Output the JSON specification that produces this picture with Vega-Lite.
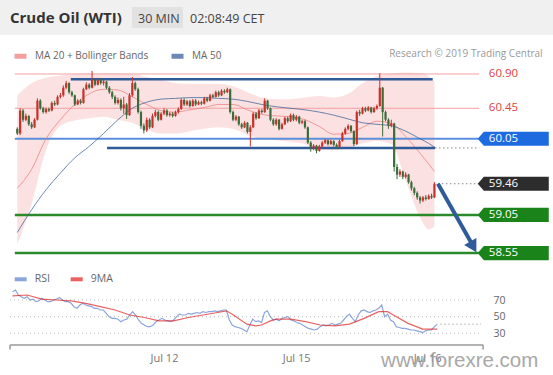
{
"$schema":"https://vega.github.io/schema/vega-lite/v6.json",
"padding":0,
"background":"white",
"spacing":0,
"config":{"view":{"stroke":null},"font":"Open Sans"},
"resolve":{"scale":{"x":"independent","y":"independent","color":"independent"},"legend":{"color":"independent"}},
"datasets":{
"candles":[
{"i":0,"o":60.18,"h":60.20,"l":60.10,"c":60.12},
{"i":1,"o":60.12,"h":60.45,"l":60.10,"c":60.42},
{"i":2,"o":60.42,"h":60.44,"l":60.27,"c":60.30},
{"i":3,"o":60.30,"h":60.38,"l":60.28,"c":60.35},
{"i":4,"o":60.35,"h":60.36,"l":60.22,"c":60.24},
{"i":5,"o":60.24,"h":60.27,"l":60.18,"c":60.20},
{"i":6,"o":60.20,"h":60.32,"l":60.19,"c":60.30},
{"i":7,"o":60.30,"h":60.58,"l":60.29,"c":60.55},
{"i":8,"o":60.55,"h":60.57,"l":60.43,"c":60.45},
{"i":9,"o":60.45,"h":60.47,"l":60.38,"c":60.40},
{"i":10,"o":60.40,"h":60.46,"l":60.38,"c":60.44},
{"i":11,"o":60.44,"h":60.46,"l":60.40,"c":60.42},
{"i":12,"o":60.42,"h":60.54,"l":60.41,"c":60.52},
{"i":13,"o":60.52,"h":60.55,"l":60.48,"c":60.50},
{"i":14,"o":60.50,"h":60.62,"l":60.49,"c":60.60},
{"i":15,"o":60.60,"h":60.65,"l":60.58,"c":60.62},
{"i":16,"o":60.62,"h":60.75,"l":60.60,"c":60.72},
{"i":17,"o":60.72,"h":60.81,"l":60.70,"c":60.78},
{"i":18,"o":60.78,"h":60.79,"l":60.64,"c":60.66},
{"i":19,"o":60.66,"h":60.68,"l":60.60,"c":60.62},
{"i":20,"o":60.62,"h":60.63,"l":60.48,"c":60.50},
{"i":21,"o":60.50,"h":60.57,"l":60.49,"c":60.55},
{"i":22,"o":60.55,"h":60.57,"l":60.50,"c":60.52},
{"i":23,"o":60.52,"h":60.72,"l":60.51,"c":60.70},
{"i":24,"o":60.70,"h":60.79,"l":60.69,"c":60.76},
{"i":25,"o":60.76,"h":60.78,"l":60.70,"c":60.72},
{"i":26,"o":60.72,"h":60.94,"l":60.71,"c":60.82},
{"i":27,"o":60.82,"h":60.84,"l":60.74,"c":60.76},
{"i":28,"o":60.76,"h":60.85,"l":60.75,"c":60.82},
{"i":29,"o":60.82,"h":60.84,"l":60.76,"c":60.78},
{"i":30,"o":60.78,"h":60.82,"l":60.75,"c":60.80},
{"i":31,"o":60.80,"h":60.81,"l":60.70,"c":60.72},
{"i":32,"o":60.72,"h":60.74,"l":60.64,"c":60.66},
{"i":33,"o":60.66,"h":60.68,"l":60.57,"c":60.60},
{"i":34,"o":60.60,"h":60.62,"l":60.50,"c":60.52},
{"i":35,"o":60.52,"h":60.59,"l":60.50,"c":60.56},
{"i":36,"o":60.56,"h":60.58,"l":60.42,"c":60.45},
{"i":37,"o":60.45,"h":60.60,"l":60.38,"c":60.50},
{"i":38,"o":60.50,"h":60.52,"l":60.31,"c":60.36},
{"i":39,"o":60.36,"h":60.65,"l":60.35,"c":60.62},
{"i":40,"o":60.62,"h":60.86,"l":60.60,"c":60.78},
{"i":41,"o":60.78,"h":60.80,"l":60.68,"c":60.70},
{"i":42,"o":60.70,"h":60.72,"l":60.38,"c":60.40},
{"i":43,"o":60.40,"h":60.42,"l":60.18,"c":60.22},
{"i":44,"o":60.22,"h":60.25,"l":60.12,"c":60.16},
{"i":45,"o":60.16,"h":60.33,"l":60.14,"c":60.30},
{"i":46,"o":60.30,"h":60.32,"l":60.18,"c":60.20},
{"i":47,"o":60.20,"h":60.38,"l":60.19,"c":60.35},
{"i":48,"o":60.35,"h":60.43,"l":60.33,"c":60.40},
{"i":49,"o":60.40,"h":60.42,"l":60.28,"c":60.30},
{"i":50,"o":60.30,"h":60.40,"l":60.29,"c":60.38},
{"i":51,"o":60.38,"h":60.45,"l":60.36,"c":60.42},
{"i":52,"o":60.42,"h":60.44,"l":60.34,"c":60.36},
{"i":53,"o":60.36,"h":60.40,"l":60.34,"c":60.38},
{"i":54,"o":60.38,"h":60.40,"l":60.33,"c":60.35},
{"i":55,"o":60.35,"h":60.42,"l":60.34,"c":60.40},
{"i":56,"o":60.40,"h":60.46,"l":60.38,"c":60.44},
{"i":57,"o":60.44,"h":60.58,"l":60.43,"c":60.56},
{"i":58,"o":60.56,"h":60.58,"l":60.48,"c":60.50},
{"i":59,"o":60.50,"h":60.56,"l":60.48,"c":60.54},
{"i":60,"o":60.54,"h":60.56,"l":60.46,"c":60.48},
{"i":61,"o":60.48,"h":60.57,"l":60.47,"c":60.55},
{"i":62,"o":60.55,"h":60.57,"l":60.48,"c":60.50},
{"i":63,"o":60.50,"h":60.55,"l":60.49,"c":60.53},
{"i":64,"o":60.53,"h":60.55,"l":60.49,"c":60.51},
{"i":65,"o":60.51,"h":60.60,"l":60.50,"c":60.58},
{"i":66,"o":60.58,"h":60.60,"l":60.53,"c":60.55},
{"i":67,"o":60.55,"h":60.64,"l":60.54,"c":60.62},
{"i":68,"o":60.62,"h":60.64,"l":60.58,"c":60.60},
{"i":69,"o":60.60,"h":60.68,"l":60.59,"c":60.66},
{"i":70,"o":60.66,"h":60.68,"l":60.60,"c":60.62},
{"i":71,"o":60.62,"h":60.70,"l":60.61,"c":60.68},
{"i":72,"o":60.68,"h":60.70,"l":60.64,"c":60.66},
{"i":73,"o":60.66,"h":60.72,"l":60.65,"c":60.70},
{"i":74,"o":60.70,"h":60.71,"l":60.38,"c":60.40},
{"i":75,"o":60.40,"h":60.42,"l":60.28,"c":60.30},
{"i":76,"o":60.30,"h":60.36,"l":60.28,"c":60.34},
{"i":77,"o":60.34,"h":60.35,"l":60.22,"c":60.24},
{"i":78,"o":60.24,"h":60.26,"l":60.18,"c":60.20},
{"i":79,"o":60.20,"h":60.28,"l":60.19,"c":60.26},
{"i":80,"o":60.26,"h":60.27,"l":60.12,"c":60.14},
{"i":81,"o":60.14,"h":60.23,"l":59.95,"c":60.20},
{"i":82,"o":60.20,"h":60.40,"l":60.19,"c":60.38},
{"i":83,"o":60.38,"h":60.40,"l":60.30,"c":60.32},
{"i":84,"o":60.32,"h":60.44,"l":60.31,"c":60.42},
{"i":85,"o":60.42,"h":60.44,"l":60.38,"c":60.40},
{"i":86,"o":60.40,"h":60.58,"l":60.39,"c":60.55},
{"i":87,"o":60.55,"h":60.56,"l":60.43,"c":60.45},
{"i":88,"o":60.45,"h":60.46,"l":60.28,"c":60.30},
{"i":89,"o":60.30,"h":60.32,"l":60.22,"c":60.24},
{"i":90,"o":60.24,"h":60.32,"l":60.22,"c":60.30},
{"i":91,"o":60.30,"h":60.31,"l":60.16,"c":60.18},
{"i":92,"o":60.18,"h":60.26,"l":60.17,"c":60.24},
{"i":93,"o":60.24,"h":60.34,"l":60.23,"c":60.32},
{"i":94,"o":60.32,"h":60.34,"l":60.26,"c":60.28},
{"i":95,"o":60.28,"h":60.38,"l":60.27,"c":60.36},
{"i":96,"o":60.36,"h":60.38,"l":60.28,"c":60.30},
{"i":97,"o":60.30,"h":60.36,"l":60.28,"c":60.34},
{"i":98,"o":60.34,"h":60.35,"l":60.24,"c":60.26},
{"i":99,"o":60.26,"h":60.30,"l":60.24,"c":60.28},
{"i":100,"o":60.28,"h":60.30,"l":60.18,"c":60.20},
{"i":101,"o":60.20,"h":60.21,"l":59.98,"c":60.00},
{"i":102,"o":60.00,"h":60.02,"l":59.88,"c":59.92},
{"i":103,"o":59.92,"h":59.98,"l":59.90,"c":59.96},
{"i":104,"o":59.96,"h":59.97,"l":59.86,"c":59.89},
{"i":105,"o":59.89,"h":59.97,"l":59.88,"c":59.95},
{"i":106,"o":59.95,"h":60.02,"l":59.94,"c":60.00},
{"i":107,"o":60.00,"h":60.05,"l":59.98,"c":60.03},
{"i":108,"o":60.03,"h":60.04,"l":59.96,"c":59.98},
{"i":109,"o":59.98,"h":60.04,"l":59.97,"c":60.02},
{"i":110,"o":60.02,"h":60.03,"l":59.95,"c":59.97},
{"i":111,"o":59.97,"h":59.99,"l":59.92,"c":59.94},
{"i":112,"o":59.94,"h":60.04,"l":59.93,"c":60.02},
{"i":113,"o":60.02,"h":60.14,"l":60.01,"c":60.12},
{"i":114,"o":60.12,"h":60.20,"l":60.10,"c":60.18},
{"i":115,"o":60.18,"h":60.24,"l":60.16,"c":60.22},
{"i":116,"o":60.22,"h":60.23,"l":60.13,"c":60.15},
{"i":117,"o":60.15,"h":60.16,"l":59.95,"c":59.98},
{"i":118,"o":59.98,"h":60.42,"l":59.97,"c":60.40},
{"i":119,"o":60.40,"h":60.43,"l":60.35,"c":60.38},
{"i":120,"o":60.38,"h":60.47,"l":60.37,"c":60.45},
{"i":121,"o":60.45,"h":60.47,"l":60.40,"c":60.42},
{"i":122,"o":60.42,"h":60.48,"l":60.41,"c":60.46},
{"i":123,"o":60.46,"h":60.47,"l":60.38,"c":60.40},
{"i":124,"o":60.40,"h":60.47,"l":60.39,"c":60.45},
{"i":125,"o":60.45,"h":60.50,"l":60.43,"c":60.48},
{"i":126,"o":60.48,"h":60.91,"l":60.47,"c":60.72},
{"i":127,"o":60.72,"h":60.73,"l":60.08,"c":60.40},
{"i":128,"o":60.40,"h":60.42,"l":60.28,"c":60.30},
{"i":129,"o":60.30,"h":60.32,"l":60.18,"c":60.22},
{"i":130,"o":60.22,"h":60.30,"l":60.20,"c":60.25},
{"i":131,"o":60.25,"h":60.26,"l":59.62,"c":59.68},
{"i":132,"o":59.68,"h":59.72,"l":59.52,"c":59.58},
{"i":133,"o":59.58,"h":59.65,"l":59.55,"c":59.62},
{"i":134,"o":59.62,"h":59.63,"l":59.52,"c":59.55},
{"i":135,"o":59.55,"h":59.61,"l":59.53,"c":59.58},
{"i":136,"o":59.58,"h":59.59,"l":59.46,"c":59.48},
{"i":137,"o":59.48,"h":59.50,"l":59.37,"c":59.40},
{"i":138,"o":59.40,"h":59.42,"l":59.31,"c":59.34},
{"i":139,"o":59.34,"h":59.36,"l":59.25,"c":59.28},
{"i":140,"o":59.28,"h":59.30,"l":59.20,"c":59.24},
{"i":141,"o":59.24,"h":59.30,"l":59.22,"c":59.28},
{"i":142,"o":59.28,"h":59.31,"l":59.24,"c":59.26},
{"i":143,"o":59.26,"h":59.32,"l":59.25,"c":59.30},
{"i":144,"o":59.30,"h":59.33,"l":59.26,"c":59.28},
{"i":145,"o":59.28,"h":59.48,"l":59.27,"c":59.46}
],
"bands":[
{"i":0,"up":60.62,"lo":58.66,"m20":59.40,"m50":58.82},
{"i":5,"up":60.78,"lo":59.20,"m20":59.65,"m50":59.12},
{"i":10,"up":60.85,"lo":59.90,"m20":60.05,"m50":59.38},
{"i":15,"up":60.88,"lo":60.22,"m20":60.30,"m50":59.60},
{"i":20,"up":60.90,"lo":60.29,"m20":60.50,"m50":59.80},
{"i":25,"up":60.91,"lo":60.32,"m20":60.64,"m50":59.95},
{"i":30,"up":60.91,"lo":60.34,"m20":60.70,"m50":60.12},
{"i":35,"up":60.91,"lo":60.30,"m20":60.69,"m50":60.30},
{"i":40,"up":60.90,"lo":60.26,"m20":60.60,"m50":60.45},
{"i":45,"up":60.86,"lo":60.17,"m20":60.50,"m50":60.53},
{"i":50,"up":60.82,"lo":60.12,"m20":60.42,"m50":60.57},
{"i":55,"up":60.78,"lo":60.12,"m20":60.40,"m50":60.58},
{"i":60,"up":60.77,"lo":60.15,"m20":60.43,"m50":60.59},
{"i":65,"up":60.77,"lo":60.18,"m20":60.46,"m50":60.59},
{"i":70,"up":60.77,"lo":60.20,"m20":60.50,"m50":60.58},
{"i":75,"up":60.74,"lo":60.18,"m20":60.50,"m50":60.57},
{"i":80,"up":60.66,"lo":60.10,"m20":60.43,"m50":60.54},
{"i":85,"up":60.59,"lo":60.05,"m20":60.37,"m50":60.50},
{"i":90,"up":60.57,"lo":60.03,"m20":60.35,"m50":60.47},
{"i":95,"up":60.57,"lo":60.01,"m20":60.34,"m50":60.45},
{"i":100,"up":60.59,"lo":59.98,"m20":60.30,"m50":60.43},
{"i":105,"up":60.61,"lo":59.91,"m20":60.21,"m50":60.40},
{"i":110,"up":60.59,"lo":59.90,"m20":60.11,"m50":60.36},
{"i":115,"up":60.64,"lo":59.93,"m20":60.12,"m50":60.31},
{"i":120,"up":60.78,"lo":59.99,"m20":60.20,"m50":60.26},
{"i":125,"up":60.87,"lo":60.02,"m20":60.28,"m50":60.24},
{"i":130,"up":60.91,"lo":59.98,"m20":60.25,"m50":60.22},
{"i":135,"up":60.92,"lo":59.50,"m20":60.08,"m50":60.15},
{"i":140,"up":60.91,"lo":59.02,"m20":59.86,"m50":60.05},
{"i":143,"up":60.87,"lo":58.86,"m20":59.72,"m50":59.99},
{"i":145,"up":60.80,"lo":58.90,"m20":59.62,"m50":59.94}
],
"levels":[
{"v":60.90,"t":"r"},{"v":60.45,"t":"r"},{"v":60.05,"t":"b"},{"v":59.46,"t":"k"},{"v":59.05,"t":"g"},{"v":58.55,"t":"g"}
],
"sr":[{"a":18.6,"b":144.4,"v":60.83},{"a":31.2,"b":145.2,"v":59.93}],
"dots":[{"a":145.2,"v":59.93},{"a":146.2,"v":59.46}],
"arrow":[{"a":146.2,"p":59.46,"b":157.9,"q":58.68,"hx":158.5,"hy":58.632}],
"rsigrid":[{"g":70},{"g":50},{"g":30}],
"rsi":[
{"i":0,"v":80,"s":"RSI"},{"i":1,"v":82,"s":"RSI"},{"i":2,"v":76,"s":"RSI"},{"i":3,"v":74,"s":"RSI"},{"i":4,"v":72,"s":"RSI"},{"i":5,"v":74,"s":"RSI"},{"i":6,"v":70,"s":"RSI"},{"i":7,"v":71,"s":"RSI"},{"i":8,"v":68,"s":"RSI"},{"i":9,"v":69,"s":"RSI"},
{"i":10,"v":72,"s":"RSI"},{"i":11,"v":70,"s":"RSI"},{"i":12,"v":68,"s":"RSI"},{"i":13,"v":68,"s":"RSI"},{"i":14,"v":70,"s":"RSI"},{"i":15,"v":71,"s":"RSI"},{"i":16,"v":73,"s":"RSI"},{"i":17,"v":70,"s":"RSI"},{"i":18,"v":68,"s":"RSI"},{"i":19,"v":68,"s":"RSI"},
{"i":20,"v":66,"s":"RSI"},{"i":21,"v":62,"s":"RSI"},{"i":22,"v":60,"s":"RSI"},{"i":23,"v":64,"s":"RSI"},{"i":24,"v":66,"s":"RSI"},{"i":25,"v":64,"s":"RSI"},{"i":26,"v":63,"s":"RSI"},{"i":27,"v":62,"s":"RSI"},{"i":28,"v":60,"s":"RSI"},{"i":29,"v":60,"s":"RSI"},
{"i":30,"v":58,"s":"RSI"},{"i":31,"v":58,"s":"RSI"},{"i":32,"v":54,"s":"RSI"},{"i":33,"v":50,"s":"RSI"},{"i":34,"v":48,"s":"RSI"},{"i":35,"v":48,"s":"RSI"},{"i":36,"v":47,"s":"RSI"},{"i":37,"v":44,"s":"RSI"},{"i":38,"v":46,"s":"RSI"},{"i":39,"v":47,"s":"RSI"},
{"i":40,"v":52,"s":"RSI"},{"i":41,"v":56,"s":"RSI"},{"i":42,"v":52,"s":"RSI"},{"i":43,"v":46,"s":"RSI"},{"i":44,"v":42,"s":"RSI"},{"i":45,"v":40,"s":"RSI"},{"i":46,"v":38,"s":"RSI"},{"i":47,"v":38,"s":"RSI"},{"i":48,"v":40,"s":"RSI"},{"i":49,"v":44,"s":"RSI"},
{"i":50,"v":46,"s":"RSI"},{"i":51,"v":48,"s":"RSI"},{"i":52,"v":46,"s":"RSI"},{"i":53,"v":45,"s":"RSI"},{"i":54,"v":44,"s":"RSI"},{"i":55,"v":46,"s":"RSI"},{"i":56,"v":50,"s":"RSI"},{"i":57,"v":53,"s":"RSI"},{"i":58,"v":52,"s":"RSI"},{"i":59,"v":52,"s":"RSI"},
{"i":60,"v":54,"s":"RSI"},{"i":61,"v":53,"s":"RSI"},{"i":62,"v":54,"s":"RSI"},{"i":63,"v":55,"s":"RSI"},{"i":64,"v":54,"s":"RSI"},{"i":65,"v":56,"s":"RSI"},{"i":66,"v":55,"s":"RSI"},{"i":67,"v":56,"s":"RSI"},{"i":68,"v":56,"s":"RSI"},{"i":69,"v":57,"s":"RSI"},
{"i":70,"v":56,"s":"RSI"},{"i":71,"v":57,"s":"RSI"},{"i":72,"v":58,"s":"RSI"},{"i":73,"v":58,"s":"RSI"},{"i":74,"v":46,"s":"RSI"},{"i":75,"v":40,"s":"RSI"},{"i":76,"v":38,"s":"RSI"},{"i":77,"v":37,"s":"RSI"},{"i":78,"v":36,"s":"RSI"},{"i":79,"v":34,"s":"RSI"},
{"i":80,"v":32,"s":"RSI"},{"i":81,"v":40,"s":"RSI"},{"i":82,"v":47,"s":"RSI"},{"i":83,"v":44,"s":"RSI"},{"i":84,"v":45,"s":"RSI"},{"i":85,"v":43,"s":"RSI"},{"i":86,"v":55,"s":"RSI"},{"i":87,"v":57,"s":"RSI"},{"i":88,"v":50,"s":"RSI"},{"i":89,"v":46,"s":"RSI"},
{"i":90,"v":47,"s":"RSI"},{"i":91,"v":45,"s":"RSI"},{"i":92,"v":48,"s":"RSI"},{"i":93,"v":49,"s":"RSI"},{"i":94,"v":50,"s":"RSI"},{"i":95,"v":46,"s":"RSI"},{"i":96,"v":45,"s":"RSI"},{"i":97,"v":43,"s":"RSI"},{"i":98,"v":42,"s":"RSI"},{"i":99,"v":40,"s":"RSI"},
{"i":100,"v":38,"s":"RSI"},{"i":101,"v":36,"s":"RSI"},{"i":102,"v":35,"s":"RSI"},{"i":103,"v":34,"s":"RSI"},{"i":104,"v":35,"s":"RSI"},{"i":105,"v":38,"s":"RSI"},{"i":106,"v":40,"s":"RSI"},{"i":107,"v":39,"s":"RSI"},{"i":108,"v":40,"s":"RSI"},{"i":109,"v":42,"s":"RSI"},
{"i":110,"v":40,"s":"RSI"},{"i":111,"v":41,"s":"RSI"},{"i":112,"v":42,"s":"RSI"},{"i":113,"v":46,"s":"RSI"},{"i":114,"v":50,"s":"RSI"},{"i":115,"v":53,"s":"RSI"},{"i":116,"v":48,"s":"RSI"},{"i":117,"v":44,"s":"RSI"},{"i":118,"v":52,"s":"RSI"},{"i":119,"v":57,"s":"RSI"},
{"i":120,"v":58,"s":"RSI"},{"i":121,"v":56,"s":"RSI"},{"i":122,"v":55,"s":"RSI"},{"i":123,"v":57,"s":"RSI"},{"i":124,"v":58,"s":"RSI"},{"i":125,"v":60,"s":"RSI"},{"i":126,"v":64,"s":"RSI"},{"i":127,"v":50,"s":"RSI"},{"i":128,"v":53,"s":"RSI"},{"i":129,"v":46,"s":"RSI"},
{"i":130,"v":44,"s":"RSI"},{"i":131,"v":38,"s":"RSI"},{"i":132,"v":37,"s":"RSI"},{"i":133,"v":36,"s":"RSI"},{"i":134,"v":36,"s":"RSI"},{"i":135,"v":35,"s":"RSI"},{"i":136,"v":34,"s":"RSI"},{"i":137,"v":34,"s":"RSI"},{"i":138,"v":33,"s":"RSI"},{"i":139,"v":32,"s":"RSI"},
{"i":140,"v":31,"s":"RSI"},{"i":141,"v":33,"s":"RSI"},{"i":142,"v":34,"s":"RSI"},{"i":143,"v":34,"s":"RSI"},{"i":144,"v":38,"s":"RSI"},{"i":145,"v":41,"s":"RSI"},
{"i":0,"v":75,"s":"9MA"},{"i":5,"v":76,"s":"9MA"},{"i":10,"v":71,"s":"9MA"},{"i":15,"v":70,"s":"9MA"},{"i":20,"v":69,"s":"9MA"},{"i":25,"v":66,"s":"9MA"},{"i":30,"v":62,"s":"9MA"},{"i":35,"v":58,"s":"9MA"},{"i":40,"v":52,"s":"9MA"},{"i":45,"v":49,"s":"9MA"},
{"i":50,"v":45,"s":"9MA"},{"i":55,"v":45,"s":"9MA"},{"i":60,"v":49,"s":"9MA"},{"i":65,"v":52,"s":"9MA"},{"i":70,"v":55,"s":"9MA"},{"i":73,"v":57,"s":"9MA"},{"i":75,"v":53,"s":"9MA"},{"i":80,"v":41,"s":"9MA"},{"i":83,"v":39,"s":"9MA"},{"i":85,"v":40,"s":"9MA"},
{"i":88,"v":45,"s":"9MA"},{"i":90,"v":47,"s":"9MA"},{"i":95,"v":47,"s":"9MA"},{"i":100,"v":44,"s":"9MA"},{"i":105,"v":40,"s":"9MA"},{"i":110,"v":39,"s":"9MA"},{"i":115,"v":41,"s":"9MA"},{"i":120,"v":48,"s":"9MA"},{"i":125,"v":56,"s":"9MA"},{"i":128,"v":56,"s":"9MA"},
{"i":130,"v":52,"s":"9MA"},{"i":135,"v":42,"s":"9MA"},{"i":140,"v":35,"s":"9MA"},{"i":145,"v":35,"s":"9MA"}
]
},
"vconcat":[
{
"width":553,"height":35,
"view":{"fill":"#f0f0f0","stroke":null},
"data":{"values":[{}]},
"layer":[
{"mark":{"type":"rect","color":"#e2e2e2"},
 "encoding":{"x":{"datum":132,"type":"quantitative","scale":{"domain":[0,553],"nice":false,"zero":false},"axis":null},"x2":{"datum":183},
 "y":{"datum":7,"type":"quantitative","scale":{"domain":[0,35],"reverse":true,"nice":false,"zero":false},"axis":null},"y2":{"datum":28}}},
{"mark":{"type":"text","text":"Crude Oil (WTI)","align":"left","baseline":"alphabetic","font":"Open Sans","fontSize":15,"fontWeight":"bold","color":"#333333"},
 "encoding":{"x":{"datum":10,"type":"quantitative","axis":null},"y":{"datum":23,"type":"quantitative","axis":null}}},
{"mark":{"type":"text","text":"30 MIN","align":"left","baseline":"alphabetic","font":"Open Sans","fontSize":12.5,"color":"#444444"},
 "encoding":{"x":{"datum":138,"type":"quantitative","axis":null},"y":{"datum":22.5,"type":"quantitative","axis":null}}},
{"mark":{"type":"text","text":"02:08:49 CET","align":"left","baseline":"alphabetic","font":"Open Sans","fontSize":12.5,"color":"#444444"},
 "encoding":{"x":{"datum":190,"type":"quantitative","axis":null},"y":{"datum":22.5,"type":"quantitative","axis":null}}}
]
},
{
"width":553,"height":229,
"layer":[
{"data":{"name":"bands"},"mark":{"type":"area","color":"#fbe1e1","interpolate":"monotone"},
 "encoding":{"x":{"field":"i","type":"quantitative","scale":{"domain":[-4.266,184.47],"nice":false,"zero":false},"axis":null},
 "y":{"field":"up","type":"quantitative","scale":{"domain":[58.4066,61.4118],"nice":false,"zero":false},"axis":null},"y2":{"field":"lo"}}},
{"data":{"name":"levels"},"transform":[{"filter":"datum.t == 'r'"}],"mark":{"type":"rule","color":"#f2a0a0","strokeWidth":1},
 "encoding":{"x":{"datum":-0.85,"type":"quantitative","axis":null},"x2":{"datum":160.6},"y":{"field":"v","type":"quantitative","axis":null}}},
{"data":{"name":"levels"},"transform":[{"filter":"datum.t == 'b'"}],"mark":{"type":"rule","color":"#5b8edb","strokeWidth":2},
 "encoding":{"x":{"datum":-0.85,"type":"quantitative","axis":null},"x2":{"datum":160.6},"y":{"field":"v","type":"quantitative","axis":null}}},
{"data":{"name":"levels"},"transform":[{"filter":"datum.t == 'g'"}],"mark":{"type":"rule","color":"#2a8a2a","strokeWidth":2.5},
 "encoding":{"x":{"datum":-0.85,"type":"quantitative","axis":null},"x2":{"datum":160.6},"y":{"field":"v","type":"quantitative","axis":null}}},
{"data":{"name":"bands"},"transform":[{"fold":["m20","m50"],"as":["k","val"]}],"mark":{"type":"line","interpolate":"monotone","strokeWidth":1,"opacity":0.7},
 "encoding":{"x":{"field":"i","type":"quantitative","axis":null},"y":{"field":"val","type":"quantitative","axis":null},
 "color":{"field":"k","type":"nominal","scale":{"domain":["m20","m50"],"range":["#ee7777","#2d5a96"]},
 "legend":{"orient":"none","legendX":12,"legendY":12.5,"direction":"horizontal","title":null,"symbolType":"stroke","symbolSize":144,"symbolStrokeWidth":5,"labelFont":"Open Sans","labelFontSize":10,"labelColor":"#666666","labelOffset":6,"columnPadding":12,"padding":0,
 "labelExpr":"datum.label == 'm20' ? 'MA 20 + Bollinger Bands' : 'MA 50'",
 "encode":{"symbols":{"update":{"strokeWidth":{"value":5},"opacity":{"value":1},"strokeCap":{"value":"butt"}}}}}}}},
{"data":{"name":"sr"},"mark":{"type":"rule","color":"#2f5b9b","strokeWidth":2.5},
 "encoding":{"x":{"field":"a","type":"quantitative","axis":null},"x2":{"field":"b"},"y":{"field":"v","type":"quantitative","axis":null}}},
{"data":{"name":"candles"},"mark":{"type":"rule","strokeWidth":1},
 "encoding":{"x":{"field":"i","type":"quantitative","axis":null},"y":{"field":"l","type":"quantitative","axis":null},"y2":{"field":"h"},
 "color":{"condition":{"test":"datum.c >= datum.o","value":"#c9302c"},"value":"#3b6d3b"}}},
{"data":{"name":"candles"},"mark":{"type":"bar","width":2.2},
 "encoding":{"x":{"field":"i","type":"quantitative","axis":null},"y":{"field":"o","type":"quantitative","axis":null},"y2":{"field":"c"},
 "color":{"condition":{"test":"datum.c >= datum.o","value":"#c9302c"},"value":"#3b6d3b"}}},
{"data":{"name":"dots"},"mark":{"type":"rule","color":"#888888","strokeWidth":1,"strokeDash":[1.5,2.5]},
 "encoding":{"x":{"field":"a","type":"quantitative","axis":null},"x2":{"datum":160.6},"y":{"field":"v","type":"quantitative","axis":null}}},
{"data":{"name":"arrow"},"mark":{"type":"rule","color":"#2f5b9b","strokeWidth":4,"strokeCap":"butt"},
 "encoding":{"x":{"field":"a","type":"quantitative","axis":null},"x2":{"field":"b"},"y":{"field":"p","type":"quantitative","axis":null},"y2":{"field":"q"}}},
{"data":{"name":"arrow"},"mark":{"type":"point","shape":"triangle-up","filled":true,"size":200,"angle":150,"color":"#2f5b9b","opacity":1},
 "encoding":{"x":{"field":"hx","type":"quantitative","axis":null},"y":{"field":"hy","type":"quantitative","axis":null}}},
{"data":{"name":"levels"},"transform":[{"filter":"datum.t != 'r'"}],"mark":{"type":"point","shape":"M-1,0L-0.83,-0.2L1,-0.2L1,0.2L-0.83,0.2Z","filled":true,"size":5041,"opacity":1,"strokeWidth":0},
 "encoding":{"x":{"datum":172.4,"type":"quantitative","axis":null},"y":{"field":"v","type":"quantitative","axis":null},
 "color":{"condition":[{"test":"datum.t == 'b'","value":"#1e6be0"},{"test":"datum.t == 'k'","value":"#2d2d2d"}],"value":"#1a841a"}}},
{"data":{"name":"levels"},"mark":{"type":"text","align":"left","baseline":"middle","font":"Open Sans","fontSize":11.5},
 "encoding":{"x":{"datum":163.9,"type":"quantitative","axis":null},"y":{"field":"v","type":"quantitative","axis":null},
 "text":{"field":"v","type":"quantitative","format":".2f"},
 "color":{"condition":{"test":"datum.t == 'r'","value":"#e3403f"},"value":"#ffffff"}}},
{"data":{"values":[{}]},"mark":{"type":"text","text":"Research © 2019 Trading Central","align":"right","baseline":"middle","font":"Open Sans","fontSize":10,"color":"#999999"},
 "encoding":{"x":{"datum":182.6,"type":"quantitative","axis":null},"y":{"datum":61.169,"type":"quantitative","axis":null}}}
]
},
{
"width":553,"height":86,
"layer":[
{"data":{"name":"rsigrid"},"mark":{"type":"rule","color":"#bbbbbb","strokeWidth":1,"strokeDash":[1,3]},
 "encoding":{"x":{"datum":-0.85,"type":"quantitative","scale":{"domain":[-4.266,184.47],"nice":false,"zero":false},
  "axis":{"values":[51.7,96.8,141.5],"labelExpr":"datum.value < 70 ? 'Jul 12' : (datum.value < 120 ? 'Jul 15' : 'Jul 16')","domain":false,"ticks":false,"grid":false,"title":null,"labelFont":"Open Sans","labelFontSize":11,"labelColor":"#777777","labelPadding":2,"labelFlush":false,"labelOverlap":false}},
 "x2":{"datum":159.9},
 "y":{"field":"g","type":"quantitative","scale":{"domain":[10,113.2],"nice":false,"zero":false},
  "axis":{"orient":"right","offset":-60,"values":[30,50,70],"domain":false,"ticks":false,"tickSize":0,"grid":false,"title":null,"labelPadding":0,"labelFont":"Open Sans","labelFontSize":10.5,"labelColor":"#666666","labelAlign":"left"}}}},
{"data":{"name":"rsi"},"mark":{"type":"line","strokeWidth":1.2,"opacity":0.7},
 "encoding":{"x":{"field":"i","type":"quantitative"},
 "y":{"field":"v","type":"quantitative"},
 "color":{"field":"s","type":"nominal","scale":{"domain":["RSI","9MA"],"range":["#5b7fd0","#e01f1f"]},
 "legend":{"orient":"none","legendX":12.7,"legendY":7.3,"direction":"horizontal","title":null,"symbolType":"stroke","symbolSize":144,"symbolStrokeWidth":4,"labelFont":"Open Sans","labelFontSize":10.5,"labelColor":"#666666","labelOffset":6,"columnPadding":12,"padding":0,
 "encode":{"symbols":{"update":{"strokeWidth":{"value":4},"opacity":{"value":1},"strokeCap":{"value":"butt"}}}}}}}},
{"data":{"values":[{}]},"mark":{"type":"rule","color":"#aaaaaa","strokeWidth":1,"strokeDash":[1.5,2.5]},
 "encoding":{"x":{"datum":146,"type":"quantitative"},"x2":{"datum":159.9},"y":{"datum":41,"type":"quantitative"}}},
{"data":{"values":[{}]},"mark":{"type":"rule","color":"#999999","strokeWidth":1.5},
 "encoding":{"x":{"datum":-0.85,"type":"quantitative"},"x2":{"datum":160.6},"y":{"datum":16,"type":"quantitative"}}},
{"data":{"values":[{}]},"mark":{"type":"rule","color":"#999999","strokeWidth":1.5},
 "encoding":{"x":{"datum":-0.85,"type":"quantitative"},"y":{"datum":16,"type":"quantitative"},"y2":{"datum":10.5}}},
{"data":{"values":[{}]},"mark":{"type":"rule","color":"#999999","strokeWidth":1.5},
 "encoding":{"x":{"datum":160.6,"type":"quantitative"},"y":{"datum":16,"type":"quantitative"},"y2":{"datum":10.5}}},
{"data":{"values":[{}]},"mark":{"type":"text","text":"www.forexre.com","align":"left","baseline":"alphabetic","font":"Liberation Sans","fontSize":20.5,"color":"#999999","opacity":0.85},
 "encoding":{"x":{"datum":125.8,"type":"quantitative"},"y":{"datum":-10.4,"type":"quantitative"}}}
]
}
]
}
